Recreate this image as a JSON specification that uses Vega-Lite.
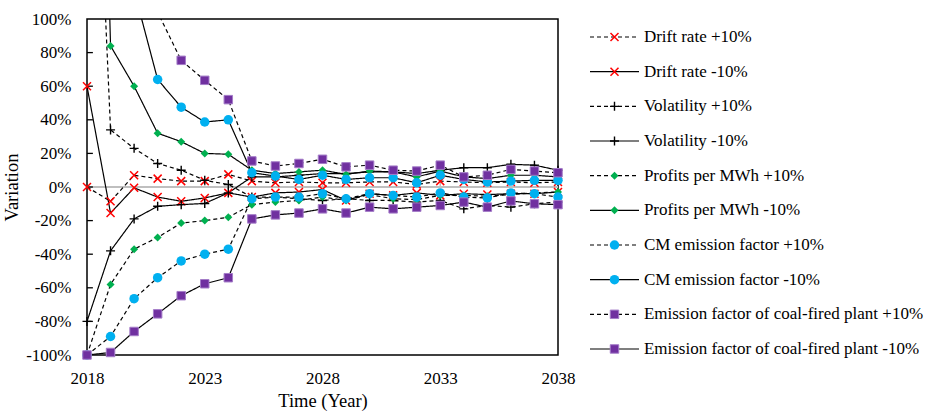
{
  "$schema": "https://vega.github.io/schema/vega-lite/v6.json",
  "padding": {"left": 1, "top": 9, "right": 0, "bottom": 0},
  "bounds": "flush",
  "spacing": 32,
  "config": {
    "font": "Liberation Serif",
    "view": {"stroke": null},
    "axis": {"labelFont": "Liberation Serif", "titleFont": "Liberation Serif", "labelColor": "#000000", "titleColor": "#000000", "labelFontSize": 17, "titleFontSize": 18.5, "titleFontWeight": "normal", "labelOverlap": false, "labelFlush": false, "grid": false, "domain": false, "ticks": false},
    "axisX": {"labelPadding": 15, "titlePadding": 5},
    "axisY": {"labelPadding": 16, "titlePadding": 4}
  },
  "datasets": {
    "main": [
      {"param":"Drift rate","change":"+10%","year":2018,"value":0},{"param":"Drift rate","change":"+10%","year":2019,"value":-8.5},{"param":"Drift rate","change":"+10%","year":2020,"value":7},{"param":"Drift rate","change":"+10%","year":2021,"value":5},{"param":"Drift rate","change":"+10%","year":2022,"value":3.5},{"param":"Drift rate","change":"+10%","year":2023,"value":3.5},{"param":"Drift rate","change":"+10%","year":2024,"value":7.5},{"param":"Drift rate","change":"+10%","year":2025,"value":3.5},{"param":"Drift rate","change":"+10%","year":2026,"value":2.5},{"param":"Drift rate","change":"+10%","year":2027,"value":3},{"param":"Drift rate","change":"+10%","year":2028,"value":2.5},{"param":"Drift rate","change":"+10%","year":2029,"value":2.5},{"param":"Drift rate","change":"+10%","year":2030,"value":3},{"param":"Drift rate","change":"+10%","year":2031,"value":3},{"param":"Drift rate","change":"+10%","year":2032,"value":1.5},{"param":"Drift rate","change":"+10%","year":2033,"value":3.5},{"param":"Drift rate","change":"+10%","year":2034,"value":3},{"param":"Drift rate","change":"+10%","year":2035,"value":2.5},{"param":"Drift rate","change":"+10%","year":2036,"value":3},{"param":"Drift rate","change":"+10%","year":2037,"value":2.5},{"param":"Drift rate","change":"+10%","year":2038,"value":3},
      {"param":"Drift rate","change":"-10%","year":2018,"value":60},{"param":"Drift rate","change":"-10%","year":2019,"value":-15.5},{"param":"Drift rate","change":"-10%","year":2020,"value":-0.5},{"param":"Drift rate","change":"-10%","year":2021,"value":-6},{"param":"Drift rate","change":"-10%","year":2022,"value":-8.5},{"param":"Drift rate","change":"-10%","year":2023,"value":-6.5},{"param":"Drift rate","change":"-10%","year":2024,"value":-3.5},{"param":"Drift rate","change":"-10%","year":2025,"value":-6},{"param":"Drift rate","change":"-10%","year":2026,"value":-3.5},{"param":"Drift rate","change":"-10%","year":2027,"value":-3},{"param":"Drift rate","change":"-10%","year":2028,"value":-1.5},{"param":"Drift rate","change":"-10%","year":2029,"value":-8},{"param":"Drift rate","change":"-10%","year":2030,"value":-4},{"param":"Drift rate","change":"-10%","year":2031,"value":-5},{"param":"Drift rate","change":"-10%","year":2032,"value":-3.5},{"param":"Drift rate","change":"-10%","year":2033,"value":-5},{"param":"Drift rate","change":"-10%","year":2034,"value":-4},{"param":"Drift rate","change":"-10%","year":2035,"value":-4.5},{"param":"Drift rate","change":"-10%","year":2036,"value":-4},{"param":"Drift rate","change":"-10%","year":2037,"value":-4},{"param":"Drift rate","change":"-10%","year":2038,"value":-3},
      {"param":"Volatility","change":"+10%","year":2018,"value":350},{"param":"Volatility","change":"+10%","year":2019,"value":34},{"param":"Volatility","change":"+10%","year":2020,"value":23},{"param":"Volatility","change":"+10%","year":2021,"value":14},{"param":"Volatility","change":"+10%","year":2022,"value":10},{"param":"Volatility","change":"+10%","year":2023,"value":4},{"param":"Volatility","change":"+10%","year":2024,"value":1.5},{"param":"Volatility","change":"+10%","year":2025,"value":-6},{"param":"Volatility","change":"+10%","year":2026,"value":-6},{"param":"Volatility","change":"+10%","year":2027,"value":-7},{"param":"Volatility","change":"+10%","year":2028,"value":-8},{"param":"Volatility","change":"+10%","year":2029,"value":-7},{"param":"Volatility","change":"+10%","year":2030,"value":-8},{"param":"Volatility","change":"+10%","year":2031,"value":-8},{"param":"Volatility","change":"+10%","year":2032,"value":-9},{"param":"Volatility","change":"+10%","year":2033,"value":-8},{"param":"Volatility","change":"+10%","year":2034,"value":-13},{"param":"Volatility","change":"+10%","year":2035,"value":-11},{"param":"Volatility","change":"+10%","year":2036,"value":-12},{"param":"Volatility","change":"+10%","year":2037,"value":-10},{"param":"Volatility","change":"+10%","year":2038,"value":-9},
      {"param":"Volatility","change":"-10%","year":2018,"value":-80},{"param":"Volatility","change":"-10%","year":2019,"value":-38},{"param":"Volatility","change":"-10%","year":2020,"value":-19},{"param":"Volatility","change":"-10%","year":2021,"value":-11.5},{"param":"Volatility","change":"-10%","year":2022,"value":-10.5},{"param":"Volatility","change":"-10%","year":2023,"value":-9.8},{"param":"Volatility","change":"-10%","year":2024,"value":-3.5},{"param":"Volatility","change":"-10%","year":2025,"value":6},{"param":"Volatility","change":"-10%","year":2026,"value":6},{"param":"Volatility","change":"-10%","year":2027,"value":7},{"param":"Volatility","change":"-10%","year":2028,"value":8},{"param":"Volatility","change":"-10%","year":2029,"value":8},{"param":"Volatility","change":"-10%","year":2030,"value":9},{"param":"Volatility","change":"-10%","year":2031,"value":9},{"param":"Volatility","change":"-10%","year":2032,"value":8},{"param":"Volatility","change":"-10%","year":2033,"value":10},{"param":"Volatility","change":"-10%","year":2034,"value":11.5},{"param":"Volatility","change":"-10%","year":2035,"value":11.5},{"param":"Volatility","change":"-10%","year":2036,"value":13.5},{"param":"Volatility","change":"-10%","year":2037,"value":13},{"param":"Volatility","change":"-10%","year":2038,"value":10},
      {"param":"Profits per MWh","change":"+10%","year":2018,"value":-100},{"param":"Profits per MWh","change":"+10%","year":2019,"value":-58},{"param":"Profits per MWh","change":"+10%","year":2020,"value":-37},{"param":"Profits per MWh","change":"+10%","year":2021,"value":-30},{"param":"Profits per MWh","change":"+10%","year":2022,"value":-21.5},{"param":"Profits per MWh","change":"+10%","year":2023,"value":-20},{"param":"Profits per MWh","change":"+10%","year":2024,"value":-18},{"param":"Profits per MWh","change":"+10%","year":2025,"value":-10.5},{"param":"Profits per MWh","change":"+10%","year":2026,"value":-9},{"param":"Profits per MWh","change":"+10%","year":2027,"value":-8},{"param":"Profits per MWh","change":"+10%","year":2028,"value":-6},{"param":"Profits per MWh","change":"+10%","year":2029,"value":-8},{"param":"Profits per MWh","change":"+10%","year":2030,"value":-4.5},{"param":"Profits per MWh","change":"+10%","year":2031,"value":-7},{"param":"Profits per MWh","change":"+10%","year":2032,"value":-7.5},{"param":"Profits per MWh","change":"+10%","year":2033,"value":-5},{"param":"Profits per MWh","change":"+10%","year":2034,"value":-5},{"param":"Profits per MWh","change":"+10%","year":2035,"value":-5.5},{"param":"Profits per MWh","change":"+10%","year":2036,"value":-4.5},{"param":"Profits per MWh","change":"+10%","year":2037,"value":-3.5},{"param":"Profits per MWh","change":"+10%","year":2038,"value":-3},
      {"param":"Profits per MWh","change":"-10%","year":2018,"value":600},{"param":"Profits per MWh","change":"-10%","year":2019,"value":84},{"param":"Profits per MWh","change":"-10%","year":2020,"value":60},{"param":"Profits per MWh","change":"-10%","year":2021,"value":32},{"param":"Profits per MWh","change":"-10%","year":2022,"value":27},{"param":"Profits per MWh","change":"-10%","year":2023,"value":20},{"param":"Profits per MWh","change":"-10%","year":2024,"value":19.5},{"param":"Profits per MWh","change":"-10%","year":2025,"value":10},{"param":"Profits per MWh","change":"-10%","year":2026,"value":8},{"param":"Profits per MWh","change":"-10%","year":2027,"value":9},{"param":"Profits per MWh","change":"-10%","year":2028,"value":10},{"param":"Profits per MWh","change":"-10%","year":2029,"value":7.5},{"param":"Profits per MWh","change":"-10%","year":2030,"value":9.5},{"param":"Profits per MWh","change":"-10%","year":2031,"value":9},{"param":"Profits per MWh","change":"-10%","year":2032,"value":6},{"param":"Profits per MWh","change":"-10%","year":2033,"value":9.5},{"param":"Profits per MWh","change":"-10%","year":2034,"value":6},{"param":"Profits per MWh","change":"-10%","year":2035,"value":5},{"param":"Profits per MWh","change":"-10%","year":2036,"value":7},{"param":"Profits per MWh","change":"-10%","year":2037,"value":7},{"param":"Profits per MWh","change":"-10%","year":2038,"value":6},
      {"param":"CM emission factor","change":"+10%","year":2018,"value":-100},{"param":"CM emission factor","change":"+10%","year":2019,"value":-89},{"param":"CM emission factor","change":"+10%","year":2020,"value":-66.5},{"param":"CM emission factor","change":"+10%","year":2021,"value":-54},{"param":"CM emission factor","change":"+10%","year":2022,"value":-44},{"param":"CM emission factor","change":"+10%","year":2023,"value":-40},{"param":"CM emission factor","change":"+10%","year":2024,"value":-37},{"param":"CM emission factor","change":"+10%","year":2025,"value":-7},{"param":"CM emission factor","change":"+10%","year":2026,"value":-6},{"param":"CM emission factor","change":"+10%","year":2027,"value":-6},{"param":"CM emission factor","change":"+10%","year":2028,"value":-4},{"param":"CM emission factor","change":"+10%","year":2029,"value":-7},{"param":"CM emission factor","change":"+10%","year":2030,"value":-4},{"param":"CM emission factor","change":"+10%","year":2031,"value":-5},{"param":"CM emission factor","change":"+10%","year":2032,"value":-6},{"param":"CM emission factor","change":"+10%","year":2033,"value":-3.5},{"param":"CM emission factor","change":"+10%","year":2034,"value":-6},{"param":"CM emission factor","change":"+10%","year":2035,"value":-6.5},{"param":"CM emission factor","change":"+10%","year":2036,"value":-3.5},{"param":"CM emission factor","change":"+10%","year":2037,"value":-4},{"param":"CM emission factor","change":"+10%","year":2038,"value":-6},
      {"param":"CM emission factor","change":"-10%","year":2018,"value":250},{"param":"CM emission factor","change":"-10%","year":2019,"value":180},{"param":"CM emission factor","change":"-10%","year":2020,"value":117},{"param":"CM emission factor","change":"-10%","year":2021,"value":64},{"param":"CM emission factor","change":"-10%","year":2022,"value":47.5},{"param":"CM emission factor","change":"-10%","year":2023,"value":38.7},{"param":"CM emission factor","change":"-10%","year":2024,"value":40},{"param":"CM emission factor","change":"-10%","year":2025,"value":8.5},{"param":"CM emission factor","change":"-10%","year":2026,"value":6.5},{"param":"CM emission factor","change":"-10%","year":2027,"value":4.5},{"param":"CM emission factor","change":"-10%","year":2028,"value":7},{"param":"CM emission factor","change":"-10%","year":2029,"value":4.5},{"param":"CM emission factor","change":"-10%","year":2030,"value":5.5},{"param":"CM emission factor","change":"-10%","year":2031,"value":5.5},{"param":"CM emission factor","change":"-10%","year":2032,"value":2.5},{"param":"CM emission factor","change":"-10%","year":2033,"value":7},{"param":"CM emission factor","change":"-10%","year":2034,"value":4.5},{"param":"CM emission factor","change":"-10%","year":2035,"value":3},{"param":"CM emission factor","change":"-10%","year":2036,"value":3.5},{"param":"CM emission factor","change":"-10%","year":2037,"value":4},{"param":"CM emission factor","change":"-10%","year":2038,"value":4},
      {"param":"Emission factor of coal-fired plant","change":"+10%","year":2018,"value":300},{"param":"Emission factor of coal-fired plant","change":"+10%","year":2019,"value":200},{"param":"Emission factor of coal-fired plant","change":"+10%","year":2020,"value":140},{"param":"Emission factor of coal-fired plant","change":"+10%","year":2021,"value":104},{"param":"Emission factor of coal-fired plant","change":"+10%","year":2022,"value":75.4},{"param":"Emission factor of coal-fired plant","change":"+10%","year":2023,"value":63.5},{"param":"Emission factor of coal-fired plant","change":"+10%","year":2024,"value":52},{"param":"Emission factor of coal-fired plant","change":"+10%","year":2025,"value":15.5},{"param":"Emission factor of coal-fired plant","change":"+10%","year":2026,"value":12.5},{"param":"Emission factor of coal-fired plant","change":"+10%","year":2027,"value":14},{"param":"Emission factor of coal-fired plant","change":"+10%","year":2028,"value":16.5},{"param":"Emission factor of coal-fired plant","change":"+10%","year":2029,"value":12},{"param":"Emission factor of coal-fired plant","change":"+10%","year":2030,"value":13},{"param":"Emission factor of coal-fired plant","change":"+10%","year":2031,"value":10},{"param":"Emission factor of coal-fired plant","change":"+10%","year":2032,"value":9.5},{"param":"Emission factor of coal-fired plant","change":"+10%","year":2033,"value":13},{"param":"Emission factor of coal-fired plant","change":"+10%","year":2034,"value":6},{"param":"Emission factor of coal-fired plant","change":"+10%","year":2035,"value":7},{"param":"Emission factor of coal-fired plant","change":"+10%","year":2036,"value":10.5},{"param":"Emission factor of coal-fired plant","change":"+10%","year":2037,"value":9.5},{"param":"Emission factor of coal-fired plant","change":"+10%","year":2038,"value":8.5},
      {"param":"Emission factor of coal-fired plant","change":"-10%","year":2018,"value":-100},{"param":"Emission factor of coal-fired plant","change":"-10%","year":2019,"value":-98.5},{"param":"Emission factor of coal-fired plant","change":"-10%","year":2020,"value":-86},{"param":"Emission factor of coal-fired plant","change":"-10%","year":2021,"value":-75.5},{"param":"Emission factor of coal-fired plant","change":"-10%","year":2022,"value":-64.7},{"param":"Emission factor of coal-fired plant","change":"-10%","year":2023,"value":-57.6},{"param":"Emission factor of coal-fired plant","change":"-10%","year":2024,"value":-54},{"param":"Emission factor of coal-fired plant","change":"-10%","year":2025,"value":-19},{"param":"Emission factor of coal-fired plant","change":"-10%","year":2026,"value":-16.6},{"param":"Emission factor of coal-fired plant","change":"-10%","year":2027,"value":-15.5},{"param":"Emission factor of coal-fired plant","change":"-10%","year":2028,"value":-13},{"param":"Emission factor of coal-fired plant","change":"-10%","year":2029,"value":-15.5},{"param":"Emission factor of coal-fired plant","change":"-10%","year":2030,"value":-12},{"param":"Emission factor of coal-fired plant","change":"-10%","year":2031,"value":-13},{"param":"Emission factor of coal-fired plant","change":"-10%","year":2032,"value":-12},{"param":"Emission factor of coal-fired plant","change":"-10%","year":2033,"value":-11},{"param":"Emission factor of coal-fired plant","change":"-10%","year":2034,"value":-9},{"param":"Emission factor of coal-fired plant","change":"-10%","year":2035,"value":-12},{"param":"Emission factor of coal-fired plant","change":"-10%","year":2036,"value":-8.3},{"param":"Emission factor of coal-fired plant","change":"-10%","year":2037,"value":-10},{"param":"Emission factor of coal-fired plant","change":"-10%","year":2038,"value":-10.5}
    ],
    "zeroTicks": [{"year": 2023}, {"year": 2028}, {"year": 2033}],
    "yTicks": [{"tick": -80}, {"tick": -60}, {"tick": -40}, {"tick": -20}, {"tick": 0}, {"tick": 20}, {"tick": 40}, {"tick": 60}, {"tick": 80}],
    "legend": [
      {"param":"Drift rate","change":"+10%","label":"Drift rate +10%"},
      {"param":"Drift rate","change":"-10%","label":"Drift rate -10%"},
      {"param":"Volatility","change":"+10%","label":"Volatility +10%"},
      {"param":"Volatility","change":"-10%","label":"Volatility -10%"},
      {"param":"Profits per MWh","change":"+10%","label":"Profits per MWh +10%"},
      {"param":"Profits per MWh","change":"-10%","label":"Profits per MWh -10%"},
      {"param":"CM emission factor","change":"+10%","label":"CM emission factor +10%"},
      {"param":"CM emission factor","change":"-10%","label":"CM emission factor -10%"},
      {"param":"Emission factor of coal-fired plant","change":"+10%","label":"Emission factor of coal-fired plant +10%"},
      {"param":"Emission factor of coal-fired plant","change":"-10%","label":"Emission factor of coal-fired plant -10%"}
    ]
  },
  "hconcat": [
    {
      "width": 471,
      "height": 336,
      "view": {"stroke": "#000000", "strokeWidth": 1.5},
      "layer": [
        {
          "data": {"name": "main"},
          "mark": {"type": "line", "color": "#000000", "strokeWidth": 1.2, "clip": true, "opacity": 0},
          "encoding": {
            "x": {"field": "year", "type": "quantitative", "scale": {"domain": [2018, 2038], "nice": false, "zero": false},
                  "axis": {"title": "Time (Year)", "values": [2018, 2023, 2028, 2033, 2038], "format": "d"}},
            "y": {"field": "value", "type": "quantitative", "scale": {"domain": [-100, 100], "nice": false, "zero": false},
                  "axis": {"title": "Variation", "values": [-100, -80, -60, -40, -20, 0, 20, 40, 60, 80, 100], "labelExpr": "datum.value + '%'"}},
            "detail": [{"field": "param"}, {"field": "change"}]
          }
        },
        {
          "data": {"name": "zeroTicks"},
          "mark": {"type": "rule", "color": "#BFBFBF", "strokeWidth": 2},
          "encoding": {
            "y": {"datum": 0, "type": "quantitative", "scale": {"domain": [-100, 100], "nice": false, "zero": false},
                  "axis": {"title": "Variation", "values": [-100, -80, -60, -40, -20, 0, 20, 40, 60, 80, 100], "labelExpr": "datum.value + '%'"}}
          }
        },
        {
          "data": {"name": "zeroTicks"},
          "mark": {"type": "rule", "color": "#BFBFBF", "strokeWidth": 1.5},
          "encoding": {
            "x": {"field": "year", "type": "quantitative", "scale": {"domain": [2018, 2038], "nice": false, "zero": false},
                  "axis": {"title": "Time (Year)", "values": [2018, 2023, 2028, 2033, 2038], "format": "d"}},
            "y": {"datum": 0, "type": "quantitative", "scale": {"domain": [-100, 100], "nice": false, "zero": false},
                  "axis": {"title": "Variation", "values": [-100, -80, -60, -40, -20, 0, 20, 40, 60, 80, 100], "labelExpr": "datum.value + '%'"}},
            "y2": {"datum": 4}
          }
        },
        {
          "data": {"name": "yTicks"},
          "mark": {"type": "rule", "color": "#000000", "strokeWidth": 1.3},
          "encoding": {
            "x": {"datum": 2018, "type": "quantitative", "scale": {"domain": [2018, 2038], "nice": false, "zero": false},
                  "axis": {"title": "Time (Year)", "values": [2018, 2023, 2028, 2033, 2038], "format": "d"}},
            "x2": {"datum": 2018.25},
            "y": {"field": "tick", "type": "quantitative", "scale": {"domain": [-100, 100], "nice": false, "zero": false},
                  "axis": {"title": "Variation", "values": [-100, -80, -60, -40, -20, 0, 20, 40, 60, 80, 100], "labelExpr": "datum.value + '%'"}}
          }
        },
        {
          "data": {"name": "main"},
          "mark": {"type": "line", "color": "#000000", "strokeWidth": 1.2, "clip": true},
          "encoding": {
            "x": {"field": "year", "type": "quantitative", "scale": {"domain": [2018, 2038], "nice": false, "zero": false},
                  "axis": {"title": "Time (Year)", "values": [2018, 2023, 2028, 2033, 2038], "format": "d"}},
            "y": {"field": "value", "type": "quantitative", "scale": {"domain": [-100, 100], "nice": false, "zero": false},
                  "axis": {"title": "Variation", "values": [-100, -80, -60, -40, -20, 0, 20, 40, 60, 80, 100], "labelExpr": "datum.value + '%'"}},
            "detail": [{"field": "param"}, {"field": "change"}],
            "strokeDash": {"field": "change", "type": "nominal", "scale": {"domain": ["+10%", "-10%"], "range": [[4, 3], [1, 0]]}, "legend": null}
          }
        },
        {
          "data": {"name": "main"},
          "transform": [{"filter": {"field": "param", "equal": "Drift rate"}}, {"filter": {"field": "value", "lte": 100}}],
          "mark": {"type": "point", "shape": "M-1,-1L1,1M-1,1L1,-1", "filled": false, "stroke": "#FF0000", "strokeWidth": 1.5, "size": 64, "opacity": 1},
          "encoding": {
            "x": {"field": "year", "type": "quantitative", "scale": {"domain": [2018, 2038], "nice": false, "zero": false},
                  "axis": {"title": "Time (Year)", "values": [2018, 2023, 2028, 2033, 2038], "format": "d"}},
            "y": {"field": "value", "type": "quantitative", "scale": {"domain": [-100, 100], "nice": false, "zero": false},
                  "axis": {"title": "Variation", "values": [-100, -80, -60, -40, -20, 0, 20, 40, 60, 80, 100], "labelExpr": "datum.value + '%'"}}
          }
        },
        {
          "data": {"name": "main"},
          "transform": [{"filter": {"field": "param", "equal": "Volatility"}}, {"filter": {"field": "value", "lte": 100}}],
          "mark": {"type": "point", "shape": "M-1,0L1,0M0,-1L0,1", "filled": false, "stroke": "#000000", "strokeWidth": 1.4, "size": 81, "opacity": 1},
          "encoding": {
            "x": {"field": "year", "type": "quantitative", "scale": {"domain": [2018, 2038], "nice": false, "zero": false},
                  "axis": {"title": "Time (Year)", "values": [2018, 2023, 2028, 2033, 2038], "format": "d"}},
            "y": {"field": "value", "type": "quantitative", "scale": {"domain": [-100, 100], "nice": false, "zero": false},
                  "axis": {"title": "Variation", "values": [-100, -80, -60, -40, -20, 0, 20, 40, 60, 80, 100], "labelExpr": "datum.value + '%'"}}
          }
        },
        {
          "data": {"name": "main"},
          "transform": [{"filter": {"field": "param", "equal": "Profits per MWh"}}, {"filter": {"field": "value", "lte": 100}}],
          "mark": {"type": "point", "shape": "diamond", "filled": true, "color": "#00B050", "size": 64, "opacity": 1},
          "encoding": {
            "x": {"field": "year", "type": "quantitative", "scale": {"domain": [2018, 2038], "nice": false, "zero": false},
                  "axis": {"title": "Time (Year)", "values": [2018, 2023, 2028, 2033, 2038], "format": "d"}},
            "y": {"field": "value", "type": "quantitative", "scale": {"domain": [-100, 100], "nice": false, "zero": false},
                  "axis": {"title": "Variation", "values": [-100, -80, -60, -40, -20, 0, 20, 40, 60, 80, 100], "labelExpr": "datum.value + '%'"}}
          }
        },
        {
          "data": {"name": "main"},
          "transform": [{"filter": {"field": "param", "equal": "CM emission factor"}}, {"filter": {"field": "value", "lte": 100}}],
          "mark": {"type": "point", "shape": "circle", "filled": true, "color": "#00B0F0", "size": 90, "opacity": 1},
          "encoding": {
            "x": {"field": "year", "type": "quantitative", "scale": {"domain": [2018, 2038], "nice": false, "zero": false},
                  "axis": {"title": "Time (Year)", "values": [2018, 2023, 2028, 2033, 2038], "format": "d"}},
            "y": {"field": "value", "type": "quantitative", "scale": {"domain": [-100, 100], "nice": false, "zero": false},
                  "axis": {"title": "Variation", "values": [-100, -80, -60, -40, -20, 0, 20, 40, 60, 80, 100], "labelExpr": "datum.value + '%'"}}
          }
        },
        {
          "data": {"name": "main"},
          "transform": [{"filter": {"field": "param", "equal": "Emission factor of coal-fired plant"}}, {"filter": {"field": "value", "lte": 100}}],
          "mark": {"type": "point", "shape": "square", "filled": true, "fill": "#7030A0", "stroke": "#A47CC8", "strokeWidth": 1, "size": 72, "opacity": 1},
          "encoding": {
            "x": {"field": "year", "type": "quantitative", "scale": {"domain": [2018, 2038], "nice": false, "zero": false},
                  "axis": {"title": "Time (Year)", "values": [2018, 2023, 2028, 2033, 2038], "format": "d"}},
            "y": {"field": "value", "type": "quantitative", "scale": {"domain": [-100, 100], "nice": false, "zero": false},
                  "axis": {"title": "Variation", "values": [-100, -80, -60, -40, -20, 0, 20, 40, 60, 80, 100], "labelExpr": "datum.value + '%'"}}
          }
        }
      ]
    },
    {
      "width": 343,
      "height": 348,
      "view": {"stroke": null},
      "data": {"name": "legend"},
      "layer": [
        {
          "mark": {"type": "rule", "color": "#000000", "strokeWidth": 1.2},
          "encoding": {
            "x": {"datum": 0, "type": "quantitative", "scale": {"domain": [0, 7], "nice": false, "zero": false}, "axis": null},
            "x2": {"datum": 1},
            "y": {"field": "label", "type": "nominal", "sort": null, "scale": {"type": "point", "padding": 0.52}, "axis": null},
            "strokeDash": {"field": "change", "type": "nominal", "scale": {"domain": ["+10%", "-10%"], "range": [[4, 3], [1, 0]]}, "legend": null}
          }
        },
        {
          "transform": [{"filter": {"field": "param", "equal": "Drift rate"}}],
          "mark": {"type": "point", "shape": "M-1,-1L1,1M-1,1L1,-1", "filled": false, "stroke": "#FF0000", "strokeWidth": 1.5, "size": 64, "opacity": 1},
          "encoding": {
            "x": {"datum": 0.5, "type": "quantitative", "scale": {"domain": [0, 7], "nice": false, "zero": false}, "axis": null},
            "y": {"field": "label", "type": "nominal", "sort": null, "scale": {"type": "point", "padding": 0.52}, "axis": null}
          }
        },
        {
          "transform": [{"filter": {"field": "param", "equal": "Volatility"}}],
          "mark": {"type": "point", "shape": "M-1,0L1,0M0,-1L0,1", "filled": false, "stroke": "#000000", "strokeWidth": 1.4, "size": 81, "opacity": 1},
          "encoding": {
            "x": {"datum": 0.5, "type": "quantitative", "scale": {"domain": [0, 7], "nice": false, "zero": false}, "axis": null},
            "y": {"field": "label", "type": "nominal", "sort": null, "scale": {"type": "point", "padding": 0.52}, "axis": null}
          }
        },
        {
          "transform": [{"filter": {"field": "param", "equal": "Profits per MWh"}}],
          "mark": {"type": "point", "shape": "diamond", "filled": true, "color": "#00B050", "size": 64, "opacity": 1},
          "encoding": {
            "x": {"datum": 0.5, "type": "quantitative", "scale": {"domain": [0, 7], "nice": false, "zero": false}, "axis": null},
            "y": {"field": "label", "type": "nominal", "sort": null, "scale": {"type": "point", "padding": 0.52}, "axis": null}
          }
        },
        {
          "transform": [{"filter": {"field": "param", "equal": "CM emission factor"}}],
          "mark": {"type": "point", "shape": "circle", "filled": true, "color": "#00B0F0", "size": 90, "opacity": 1},
          "encoding": {
            "x": {"datum": 0.5, "type": "quantitative", "scale": {"domain": [0, 7], "nice": false, "zero": false}, "axis": null},
            "y": {"field": "label", "type": "nominal", "sort": null, "scale": {"type": "point", "padding": 0.52}, "axis": null}
          }
        },
        {
          "transform": [{"filter": {"field": "param", "equal": "Emission factor of coal-fired plant"}}],
          "mark": {"type": "point", "shape": "square", "filled": true, "fill": "#7030A0", "stroke": "#A47CC8", "strokeWidth": 1, "size": 72, "opacity": 1},
          "encoding": {
            "x": {"datum": 0.5, "type": "quantitative", "scale": {"domain": [0, 7], "nice": false, "zero": false}, "axis": null},
            "y": {"field": "label", "type": "nominal", "sort": null, "scale": {"type": "point", "padding": 0.52}, "axis": null}
          }
        },
        {
          "mark": {"type": "text", "align": "left", "baseline": "middle", "fontSize": 17, "font": "Liberation Serif", "color": "#000000"},
          "encoding": {
            "x": {"datum": 1.1, "type": "quantitative", "scale": {"domain": [0, 7], "nice": false, "zero": false}, "axis": null},
            "y": {"field": "label", "type": "nominal", "sort": null, "scale": {"type": "point", "padding": 0.52}, "axis": null},
            "text": {"field": "label"}
          }
        }
      ]
    }
  ]
}
